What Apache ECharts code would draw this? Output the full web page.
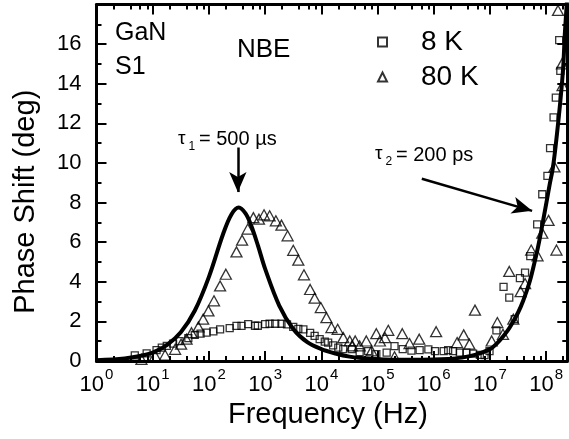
<!DOCTYPE html>
<html><head><meta charset="utf-8">
<script src="https://cdn.jsdelivr.net/npm/echarts@6/dist/echarts.min.js"></script>
<style>html,body{margin:0;padding:0;background:#fff}#c{width:569px;height:439px}</style>
</head><body><div id="c"></div>
<script>
// ---- data ----
const fitFreq  = [1, 3.16, 5.62, 10, 17.8, 31.6, 56.2, 100, 178, 251, 339, 447, 562, 750, 1000, 1780, 3160, 5620, 1e4, 1.78e4, 3.16e4, 5.62e4, 1e5, 3.16e5, 1e6, 1.78e6, 3.16e6, 5.62e6, 1e7, 1.29e7, 1.78e7, 2.24e7, 3.16e7, 3.89e7, 5.01e7, 5.89e7, 7.08e7, 7.94e7, 1e8, 1.15e8, 1.32e8, 1.55e8, 1.78e8, 2.0e8, 2.14e8, 2.34e8];
const fitPhase = [0.04, 0.13, 0.24, 0.42, 0.8, 1.45, 2.55, 4.25, 6.4, 7.4, 7.75, 7.45, 6.85, 5.8, 4.65, 2.8, 1.62, 0.95, 0.6, 0.38, 0.22, 0.14, 0.09, 0.06, 0.07, 0.1, 0.17, 0.32, 0.6, 0.85, 1.3, 1.69, 2.45, 3.04, 3.95, 4.72, 5.7, 6.4, 7.95, 8.9, 9.8, 11.45, 13.1, 14.8, 16.5, 18.2];

const k8Freq  = [4.8, 7.8, 11.7, 14.5, 17.8, 23, 30, 43, 56, 71, 91, 120, 158, 234, 309, 380, 500, 660, 740, 1000, 1200, 1510, 1950, 2450, 3160, 3890, 4790, 6310, 7590, 9330, 1.15e4, 1.32e4, 1.62e4, 2.0e4, 2.45e4, 3.5e4, 4.8e4, 6.8e4, 9.5e4, 1.45e5, 2.0e5, 2.8e5, 4.0e5, 5.6e5, 8.0e5, 1.05e6, 1.5e6, 1.8e6, 2.2e6, 2.9e6, 3.8e6, 5.0e6, 6.6e6, 8.0e6, 9.8e6, 1.3e7, 1.74e7, 2.2e7, 2.75e7, 3.4e7, 4.2e7, 5.2e7, 6.9e7, 8.5e7, 1.05e8, 1.17e8, 1.35e8, 1.48e8, 1.7e8, 1.78e8];
const k8Phase = [0.28, 0.38, 0.55, 0.68, 0.76, 0.88, 1.0, 1.15, 1.32, 1.38, 1.43, 1.5, 1.6, 1.66, 1.77, 1.77, 1.86, 1.78, 1.78, 1.86, 1.88, 1.88, 1.88, 1.85, 1.72, 1.62, 1.6, 1.42, 1.27, 1.1, 0.98, 0.93, 0.79, 0.68, 0.6, 0.6, 0.45, 0.5, 0.35, 0.42, 0.75, 0.6, 0.52, 0.55, 0.59, 0.5, 0.5, 0.55, 0.5, 0.42, 0.42, 0.37, 0.31, 0.3, 0.5, 1.55, 3.74, 3.2, 2.11, 4.18, 4.46, 5.3, 6.9, 8.42, 9.35, 10.75, 12.3, 13.3, 16.2, 14.65];

const k80Freq  = [6.3, 11, 16.6, 25, 32, 40, 49, 65, 79, 98, 123, 158, 200, 309, 389, 490, 617, 776, 955, 1200, 1550, 1950, 2510, 3160, 3890, 4900, 6310, 7590, 9770, 1.23e4, 1.51e4, 1.95e4, 2.45e4, 3.2e4, 3.5e4, 4.0e4, 4.8e4, 6.3e4, 7.8e4, 9.5e4, 1.1e5, 1.35e5, 1.55e5, 2.0e5, 2.75e5, 3.7e5, 5.5e5, 1.1e6, 2.6e6, 3.4e6, 4.3e6, 5.4e6, 1.07e7, 1.35e7, 1.7e7, 2.2e7, 2.6e7, 3.5e7, 4.2e7, 5.4e7, 7.0e7, 8.5e7, 1.1e8, 1.4e8, 1.52e8, 1.62e8, 1.9e8, 1.95e8];
const k80Phase = [0.08, 0.27, 0.3, 0.59, 0.85, 1.1, 1.43, 1.72, 2.11, 2.53, 3.04, 3.79, 4.38, 5.51, 6.1, 6.66, 7.24, 7.16, 7.38, 7.33, 7.08, 6.86, 6.32, 5.59, 5.09, 4.35, 3.61, 3.17, 2.7, 2.19, 1.69, 1.6, 1.18, 1.01, 0.76, 1.01, 0.76, 1.01, 0.51, 1.38, 1.01, 1.18, 1.55, 0.21, 1.38, 0.88, 1.1, 1.48, 0.93, 1.32, 0.85, 2.57, 1.01, 1.94, 1.35, 4.52, 2.11, 3.5, 3.91, 5.6, 5.31, 6.45, 7.1, 9.8, 5.6, 17.7, 15.0, 13.9];

const xDecades = [1, 10, 100, 1e3, 1e4, 1e5, 1e6, 1e7, 1e8];
const xMinorMult = [2, 4, 6, 8];
const xMin = 1, xMax = 2.37e8;
const yMin = 0, yMax = 18, yStep = 2;

// annotation anchor points (data coordinates)
const arrow1 = [[327, 10.78], [327, 8.53]];
const arrow2 = [[6.12e5, 9.2], [5.6e7, 7.58]];

const FONT = "'Liberation Sans', Arial, Helvetica, sans-serif";
const xMinorTicks = [];
xDecades.forEach(d => xMinorMult.forEach(m => { if (d * m <= xMax) xMinorTicks.push(d * m); }));

const zip = (a, b) => a.map((v, i) => [v, b[i]]);

const chart = echarts.init(document.getElementById('c'), null, {renderer: 'canvas'});

function xAx(pos, major, labels) {
  return {
    type: 'log', logBase: 10, min: xMin, max: xMax, position: pos, gridIndex: 0,
    axisLine: {show: major, onZero: false, lineStyle: {color: '#000', width: 3}},
    axisTick: {show: true, inside: true, length: major ? 10 : 5,
      customValues: major ? xDecades : xMinorTicks,
      lineStyle: {color: '#000', width: 2}},
    minorTick: {show: false},
    splitLine: {show: false},
    axisLabel: labels ? {
      show: true, customValues: xDecades, margin: 6, color: '#000',
      formatter: v => '{b|10}{s|' + Math.round(Math.log10(v)) + '}',
      rich: {
        b: {fontSize: 22, fontFamily: FONT, color: '#000'},
        s: {fontSize: 15, fontFamily: FONT, color: '#000', padding: [0, 0, 20, 1]}
      }
    } : {show: false},
    name: labels ? 'Frequency (Hz)' : '',
    nameLocation: 'middle', nameGap: 39,
    nameTextStyle: {fontSize: 29, fontFamily: FONT, color: '#000', padding: [0, 8, 0, 0]}
  };
}
function yAx(pos, labels) {
  return {
    type: 'value', min: yMin, max: yMax, interval: yStep, position: pos, gridIndex: 0,
    axisLine: {show: true, lineStyle: {color: '#000', width: 3}},
    axisTick: {show: true, inside: true, length: 10, lineStyle: {color: '#000', width: 2}},
    minorTick: {show: true, splitNumber: 2, length: 5, lineStyle: {color: '#000', width: 2}},
    splitLine: {show: false},
    axisLabel: labels ? {show: true, fontSize: 22, fontFamily: FONT, color: '#000', margin: 15, showMaxLabel: false} : {show: false},
    name: labels ? 'Phase Shift (deg)' : '',
    nameLocation: 'middle', nameGap: 56, nameRotate: 90,
    nameTextStyle: {fontSize: 29, fontFamily: FONT, color: '#000', padding: [0, 38, 0, 0]}
  };
}

const option = {
  animation: false,
  backgroundColor: '#fff',
  grid: {left: 96.5, right: 1.7, top: 4.5, bottom: 78, containLabel: false},
  xAxis: [xAx('bottom', true, true), xAx('bottom', false, false), xAx('top', true, false), xAx('top', false, false)],
  yAxis: [yAx('left', true), yAx('right', false)],
  legend: {
    data: ['8 K', '80 K'], orient: 'vertical', left: 372, top: 23, itemGap: 7,
    itemWidth: 9, itemHeight: 9, selectedMode: false,
    textStyle: {fontSize: 28, fontFamily: FONT, color: '#000', padding: [0, 0, 0, 29]}
  },
  series: [
    {name: '8 K', type: 'scatter', data: zip(k8Freq, k8Phase), symbol: 'rect', symbolSize: 7,
     itemStyle: {color: 'rgba(255,255,255,0)', borderColor: '#000', borderWidth: 1.3}},
    {name: '80 K', type: 'scatter', data: zip(k80Freq, k80Phase), symbol: 'triangle', symbolSize: [11, 10],
     itemStyle: {color: 'rgba(255,255,255,0)', borderColor: '#000', borderWidth: 1.3}},
    {name: 'fit', type: 'line', data: zip(fitFreq, fitPhase), smooth: 0.35, showSymbol: false,
     lineStyle: {color: '#000', width: 4}, z: 3,
     markLine: {
       silent: true, symbol: ['none', 'arrow'], symbolSize: [13, 20],
       label: {show: false},
       lineStyle: {color: '#000', width: 2.5, type: 'solid'},
       data: [
         [{coord: arrow1[0]}, {coord: arrow1[1]}],
         [{coord: arrow2[0]}, {coord: arrow2[1]}]
       ]
     }}
  ],
  graphic: [
    {type: 'text', x: 115, y: 33, style: {text: 'GaN', font: '25px ' + FONT, fill: '#000', verticalAlign: 'middle'}},
    {type: 'text', x: 115, y: 67.5, style: {text: 'S1', font: '25px ' + FONT, fill: '#000', verticalAlign: 'middle'}},
    {type: 'text', x: 237, y: 49.5, style: {text: 'NBE', font: '26px ' + FONT, fill: '#000', verticalAlign: 'middle'}},
    {type: 'text', x: 178, y: 139, style: {text: 'τ', font: '19px ' + FONT, fill: '#000', verticalAlign: 'middle'}},
    {type: 'text', x: 188.5, y: 146.5, style: {text: '1', font: '12px ' + FONT, fill: '#000', verticalAlign: 'middle'}},
    {type: 'text', x: 199, y: 139.5, style: {text: '= 500 µs', font: '20px ' + FONT, fill: '#000', verticalAlign: 'middle'}},
    {type: 'text', x: 375, y: 154, style: {text: 'τ', font: '19px ' + FONT, fill: '#000', verticalAlign: 'middle'}},
    {type: 'text', x: 385.5, y: 162, style: {text: '2', font: '12px ' + FONT, fill: '#000', verticalAlign: 'middle'}},
    {type: 'text', x: 396, y: 155, style: {text: '= 200 ps', font: '20px ' + FONT, fill: '#000', verticalAlign: 'middle'}}
  ]
};
chart.setOption(option);
</script></body></html>
